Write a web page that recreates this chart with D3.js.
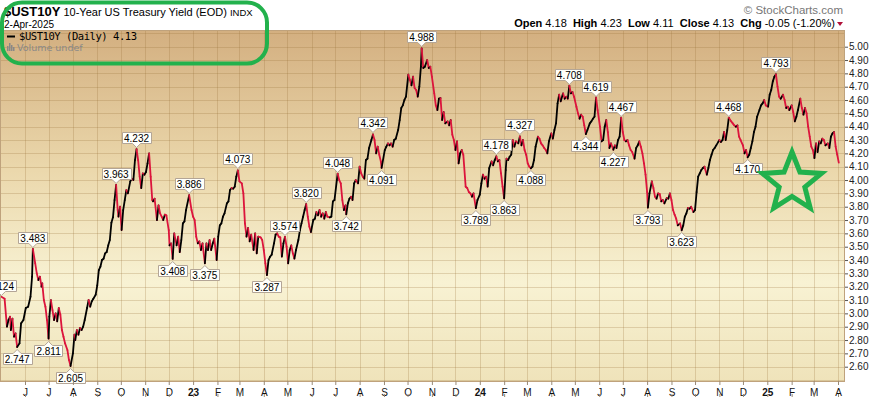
<!DOCTYPE html>
<html>
<head>
<meta charset="utf-8">
<title>$UST10Y</title>
<script src="https://cdn.jsdelivr.net/npm/d3@7"></script>
<style>
  body { margin: 0; background: #fff; }
  svg text { font-family: "Liberation Sans", Arial, sans-serif; }
</style>
</head>
<body>
<script>
// daily closes: [date, yield]
const closes = [
  ["2022-05-02",3.124],["2022-05-06",3.11],["2022-05-09",2.90],["2022-05-11",2.95],["2022-05-13",2.975],
  ["2022-05-14",2.875],["2022-05-16",2.96],["2022-05-18",2.825],["2022-05-20",2.85],["2022-05-22",2.747],
  ["2022-05-25",2.775],["2022-05-27",2.925],["2022-05-30",2.95],["2022-06-02",3.04],["2022-06-05",3.05],
  ["2022-06-08",3.125],["2022-06-10",3.275],["2022-06-11",3.483],["2022-06-14",3.375],["2022-06-16",3.30],
  ["2022-06-18",3.25],["2022-06-20",3.275],["2022-06-22",3.20],["2022-06-23",3.225],["2022-06-25",3.10],
  ["2022-06-27",3.05],["2022-06-29",2.95],["2022-07-01",2.811],["2022-07-02",2.975],["2022-07-04",3.10],
  ["2022-07-06",3.025],["2022-07-08",2.95],["2022-07-10",3.00],["2022-07-12",2.94],["2022-07-14",3.04],
  ["2022-07-16",2.99],["2022-07-18",2.875],["2022-07-20",2.825],["2022-07-22",2.775],["2022-07-25",2.725],
  ["2022-07-27",2.65],["2022-07-29",2.605],["2022-08-01",2.70],["2022-08-03",2.84],["2022-08-04",2.80],
  ["2022-08-06",2.875],["2022-08-08",2.84],["2022-08-10",2.89],["2022-08-12",2.875],["2022-08-14",2.90],
  ["2022-08-16",2.95],["2022-08-19",3.04],["2022-08-21",3.10],["2022-08-23",3.05],["2022-08-25",3.09],
  ["2022-08-27",3.11],["2022-08-30",3.14],["2022-09-01",3.21],["2022-09-03",3.325],["2022-09-05",3.35],
  ["2022-09-07",3.40],["2022-09-09",3.41],["2022-09-11",3.45],["2022-09-13",3.46],["2022-09-15",3.51],
  ["2022-09-17",3.55],["2022-09-19",3.68],["2022-09-21",3.72],["2022-09-23",3.85],["2022-09-25",3.963],
  ["2022-09-27",3.775],["2022-09-28",3.725],["2022-09-30",3.80],["2022-10-02",3.625],["2022-10-04",3.775],
  ["2022-10-06",3.85],["2022-10-08",3.925],["2022-10-10",3.90],["2022-10-13",3.99],["2022-10-15",4.01],
  ["2022-10-17",4.00],["2022-10-19",4.15],["2022-10-21",4.232],["2022-10-23",4.15],["2022-10-25",4.025],
  ["2022-10-27",3.94],["2022-10-29",4.05],["2022-10-31",4.04],["2022-11-02",4.06],["2022-11-04",4.125],
  ["2022-11-06",4.20],["2022-11-08",4.025],["2022-11-10",3.85],["2022-11-11",3.84],["2022-11-13",3.86],
  ["2022-11-16",3.70],["2022-11-18",3.81],["2022-11-20",3.75],["2022-11-22",3.725],["2022-11-24",3.70],
  ["2022-11-26",3.74],["2022-11-28",3.735],["2022-12-01",3.625],["2022-12-02",3.51],["2022-12-04",3.525],
  ["2022-12-06",3.408],["2022-12-08",3.60],["2022-12-11",3.51],["2022-12-13",3.575],["2022-12-15",3.46],
  ["2022-12-17",3.55],["2022-12-19",3.675],["2022-12-21",3.69],["2022-12-23",3.775],["2022-12-27",3.886],
  ["2022-12-30",3.775],["2023-01-01",3.725],["2023-01-03",3.70],["2023-01-05",3.575],["2023-01-07",3.525],
  ["2023-01-09",3.54],["2023-01-11",3.475],["2023-01-13",3.525],["2023-01-16",3.375],["2023-01-18",3.525],
  ["2023-01-20",3.475],["2023-01-22",3.55],["2023-01-24",3.475],["2023-01-26",3.525],["2023-01-28",3.56],
  ["2023-01-31",3.40],["2023-02-02",3.575],["2023-02-04",3.66],["2023-02-06",3.675],["2023-02-08",3.725],
  ["2023-02-10",3.75],["2023-02-13",3.825],["2023-02-15",3.84],["2023-02-17",3.925],["2023-02-19",3.94],
  ["2023-02-21",3.935],["2023-02-23",3.95],["2023-02-25",4.025],["2023-02-27",4.073],["2023-03-01",3.99],
  ["2023-03-04",3.975],["2023-03-06",3.90],["2023-03-08",3.675],["2023-03-10",3.575],["2023-03-12",3.64],
  ["2023-03-14",3.54],["2023-03-16",3.59],["2023-03-19",3.475],["2023-03-21",3.60],["2023-03-23",3.45],
  ["2023-03-25",3.575],["2023-03-28",3.57],["2023-03-30",3.55],["2023-04-01",3.475],["2023-04-03",3.375],
  ["2023-04-05",3.287],["2023-04-07",3.40],["2023-04-09",3.425],["2023-04-11",3.44],["2023-04-14",3.525],
  ["2023-04-16",3.59],["2023-04-18",3.60],["2023-04-20",3.575],["2023-04-22",3.57],["2023-04-24",3.425],
  ["2023-04-26",3.525],["2023-04-28",3.574],["2023-04-30",3.50],["2023-05-02",3.375],["2023-05-04",3.475],
  ["2023-05-06",3.51],["2023-05-08",3.45],["2023-05-10",3.41],["2023-05-12",3.475],["2023-05-15",3.55],
  ["2023-05-17",3.625],["2023-05-19",3.675],["2023-05-21",3.725],["2023-05-23",3.775],["2023-05-25",3.820],
  ["2023-05-27",3.725],["2023-05-29",3.65],["2023-05-31",3.61],["2023-06-03",3.70],["2023-06-05",3.71],
  ["2023-06-07",3.76],["2023-06-09",3.735],["2023-06-11",3.775],["2023-06-13",3.725],["2023-06-15",3.75],
  ["2023-06-17",3.71],["2023-06-19",3.76],["2023-06-21",3.725],["2023-06-24",3.72],["2023-06-26",3.725],
  ["2023-06-28",3.84],["2023-06-30",3.85],["2023-07-03",4.00],["2023-07-04",4.048],["2023-07-06",4.00],
  ["2023-07-08",3.975],["2023-07-10",3.85],["2023-07-12",3.775],["2023-07-14",3.81],["2023-07-15",3.742],
  ["2023-07-17",3.825],["2023-07-19",3.86],["2023-07-21",3.875],["2023-07-23",3.85],["2023-07-25",3.975],
  ["2023-07-27",4.00],["2023-07-30",3.975],["2023-08-01",4.10],["2023-08-03",4.05],["2023-08-05",4.025],
  ["2023-08-07",4.01],["2023-08-09",4.15],["2023-08-11",4.16],["2023-08-13",4.24],["2023-08-16",4.30],
  ["2023-08-18",4.342],["2023-08-20",4.30],["2023-08-22",4.20],["2023-08-24",4.25],["2023-08-26",4.19],
  ["2023-08-28",4.14],["2023-08-29",4.091],["2023-09-02",4.225],["2023-09-04",4.25],["2023-09-06",4.275],
  ["2023-09-08",4.26],["2023-09-10",4.275],["2023-09-12",4.25],["2023-09-14",4.30],["2023-09-16",4.31],
  ["2023-09-19",4.375],["2023-09-21",4.45],["2023-09-23",4.54],["2023-09-25",4.56],["2023-09-27",4.60],
  ["2023-09-29",4.625],["2023-10-02",4.79],["2023-10-04",4.75],["2023-10-06",4.71],["2023-10-08",4.775],
  ["2023-10-10",4.69],["2023-10-12",4.675],["2023-10-14",4.625],["2023-10-16",4.70],["2023-10-18",4.85],
  ["2023-10-19",4.988],["2023-10-21",4.84],["2023-10-23",4.85],["2023-10-26",4.90],["2023-10-28",4.84],
  ["2023-10-30",4.85],["2023-11-01",4.775],["2023-11-04",4.65],["2023-11-06",4.56],["2023-11-08",4.525],
  ["2023-11-10",4.61],["2023-11-12",4.615],["2023-11-14",4.45],["2023-11-16",4.51],["2023-11-18",4.425],
  ["2023-11-21",4.44],["2023-11-23",4.41],["2023-11-25",4.45],["2023-11-27",4.34],["2023-11-29",4.30],
  ["2023-12-01",4.225],["2023-12-03",4.29],["2023-12-05",4.125],["2023-12-07",4.20],["2023-12-09",4.225],
  ["2023-12-11",4.19],["2023-12-14",3.95],["2023-12-16",3.94],["2023-12-18",3.91],["2023-12-20",3.90],
  ["2023-12-22",3.875],["2023-12-24",3.90],["2023-12-27",3.789],["2023-12-29",3.85],["2024-01-01",3.89],
  ["2024-01-03",3.975],["2024-01-05",4.04],["2024-01-07",4.01],["2024-01-09",4.025],["2024-01-11",3.95],
  ["2024-01-13",4.09],["2024-01-16",4.14],["2024-01-18",4.11],["2024-01-20",4.15],["2024-01-22",4.178],
  ["2024-01-24",4.14],["2024-01-26",4.15],["2024-01-28",4.05],["2024-01-30",3.95],["2024-02-01",3.863],
  ["2024-02-03",4.075],["2024-02-04",4.16],["2024-02-06",4.15],["2024-02-08",4.175],["2024-02-10",4.19],
  ["2024-02-12",4.30],["2024-02-14",4.25],["2024-02-16",4.29],["2024-02-19",4.275],["2024-02-21",4.327],
  ["2024-02-23",4.26],["2024-02-25",4.30],["2024-02-27",4.225],["2024-02-29",4.19],["2024-03-02",4.125],
  ["2024-03-04",4.10],["2024-03-06",4.088],["2024-03-08",4.10],["2024-03-10",4.15],["2024-03-12",4.25],
  ["2024-03-15",4.325],["2024-03-17",4.31],["2024-03-19",4.275],["2024-03-21",4.26],["2024-03-23",4.24],
  ["2024-03-25",4.225],["2024-03-27",4.20],["2024-03-29",4.29],["2024-04-01",4.35],["2024-04-03",4.31],
  ["2024-04-05",4.375],["2024-04-07",4.425],["2024-04-09",4.575],["2024-04-11",4.64],["2024-04-13",4.59],
  ["2024-04-16",4.65],["2024-04-18",4.61],["2024-04-20",4.625],["2024-04-22",4.61],["2024-04-24",4.708],
  ["2024-04-26",4.65],["2024-04-28",4.66],["2024-04-30",4.625],["2024-05-03",4.55],["2024-05-05",4.50],
  ["2024-05-07",4.46],["2024-05-09",4.49],["2024-05-11",4.475],["2024-05-13",4.41],["2024-05-15",4.344],
  ["2024-05-17",4.375],["2024-05-20",4.425],["2024-05-22",4.44],["2024-05-24",4.46],["2024-05-26",4.475],
  ["2024-05-28",4.619],["2024-05-30",4.525],["2024-06-02",4.40],["2024-06-04",4.29],["2024-06-06",4.30],
  ["2024-06-08",4.40],["2024-06-10",4.45],["2024-06-12",4.36],["2024-06-14",4.24],["2024-06-16",4.275],
  ["2024-06-19",4.227],["2024-06-21",4.26],["2024-06-23",4.24],["2024-06-25",4.30],["2024-06-27",4.325],
  ["2024-06-29",4.467],["2024-07-01",4.36],["2024-07-03",4.30],["2024-07-05",4.29],["2024-07-07",4.30],
  ["2024-07-09",4.26],["2024-07-11",4.225],["2024-07-13",4.21],["2024-07-16",4.16],["2024-07-18",4.24],
  ["2024-07-20",4.26],["2024-07-22",4.29],["2024-07-24",4.25],["2024-07-26",4.20],["2024-07-28",4.125],
  ["2024-07-30",4.04],["2024-08-01",3.91],["2024-08-02",3.793],["2024-08-04",3.90],["2024-08-07",3.99],
  ["2024-08-09",3.94],["2024-08-11",3.875],["2024-08-13",3.86],["2024-08-15",3.90],["2024-08-17",3.895],
  ["2024-08-19",3.84],["2024-08-21",3.85],["2024-08-23",3.825],["2024-08-26",3.865],["2024-08-28",3.86],
  ["2024-08-30",3.90],["2024-09-01",3.85],["2024-09-03",3.775],["2024-09-05",3.74],["2024-09-07",3.71],
  ["2024-09-09",3.66],["2024-09-12",3.675],["2024-09-14",3.623],["2024-09-16",3.66],["2024-09-18",3.725],
  ["2024-09-20",3.75],["2024-09-22",3.79],["2024-09-24",3.785],["2024-09-26",3.80],["2024-09-29",3.76],
  ["2024-10-01",3.775],["2024-10-03",3.91],["2024-10-05",4.025],["2024-10-07",4.05],["2024-10-09",4.075],
  ["2024-10-11",4.09],["2024-10-13",4.10],["2024-10-16",4.04],["2024-10-18",4.09],["2024-10-20",4.15],
  ["2024-10-22",4.19],["2024-10-24",4.225],["2024-10-26",4.24],["2024-10-28",4.26],["2024-10-31",4.29],
  ["2024-11-01",4.30],["2024-11-03",4.285],["2024-11-05",4.30],["2024-11-07",4.36],["2024-11-09",4.30],
  ["2024-11-11",4.375],["2024-11-13",4.468],["2024-11-16",4.44],["2024-11-18",4.425],["2024-11-20",4.41],
  ["2024-11-22",4.40],["2024-11-24",4.41],["2024-11-26",4.325],["2024-11-28",4.30],["2024-12-01",4.26],
  ["2024-12-03",4.20],["2024-12-05",4.225],["2024-12-07",4.170],["2024-12-09",4.19],["2024-12-11",4.24],
  ["2024-12-13",4.29],["2024-12-15",4.36],["2024-12-17",4.40],["2024-12-19",4.475],["2024-12-22",4.525],
  ["2024-12-24",4.56],["2024-12-26",4.575],["2024-12-28",4.60],["2024-12-30",4.56],["2025-01-02",4.55],
  ["2025-01-04",4.64],["2025-01-06",4.675],["2025-01-08",4.74],["2025-01-10",4.775],["2025-01-12",4.793],
  ["2025-01-14",4.70],["2025-01-16",4.625],["2025-01-18",4.61],["2025-01-21",4.64],["2025-01-23",4.60],
  ["2025-01-25",4.54],["2025-01-27",4.55],["2025-01-29",4.525],["2025-02-01",4.56],["2025-02-03",4.51],
  ["2025-02-05",4.44],["2025-02-07",4.475],["2025-02-09",4.525],["2025-02-12",4.61],["2025-02-14",4.54],
  ["2025-02-16",4.49],["2025-02-18",4.54],["2025-02-20",4.50],["2025-02-22",4.40],["2025-02-24",4.325],
  ["2025-02-26",4.25],["2025-02-28",4.225],["2025-03-02",4.165],["2025-03-04",4.275],["2025-03-06",4.21],
  ["2025-03-08",4.29],["2025-03-10",4.275],["2025-03-12",4.31],["2025-03-14",4.30],["2025-03-16",4.26],
  ["2025-03-19",4.275],["2025-03-21",4.24],["2025-03-23",4.325],["2025-03-25",4.35],["2025-03-27",4.36],
  ["2025-03-29",4.25],["2025-03-31",4.19],["2025-04-02",4.13]
];

// annotated turning points: [date, side]
const markers = [
  ["2022-05-02","up"],["2022-05-22","down"],["2022-06-11","up"],["2022-07-01","down"],["2022-07-29","down"],
  ["2022-09-25","up"],["2022-10-21","up"],["2022-12-06","down"],["2022-12-27","up"],["2023-01-16","down"],
  ["2023-02-27","up"],["2023-04-05","down"],["2023-04-28","up"],["2023-05-25","up"],["2023-07-04","up"],
  ["2023-07-15","down"],["2023-08-18","up"],["2023-08-29","down"],["2023-10-19","up"],["2023-12-27","down"],
  ["2024-01-22","up"],["2024-02-01","down"],["2024-02-21","up"],["2024-03-06","down"],["2024-04-24","up"],
  ["2024-05-15","down"],["2024-05-28","up"],["2024-06-19","down"],["2024-06-29","up"],["2024-08-02","down"],
  ["2024-09-14","down"],["2024-11-13","up"],["2024-12-07","down"],["2025-01-12","up"]
];

const yTicks = d3.range(26, 51).map(v => v / 10);
const quoteStats = [["Open","4.18"],["High","4.23"],["Low","4.11"],["Close","4.13"],["Chg","-0.05 (-1.20%)"]];

const W = 876, H = 397;
const plot = {left: 0, right: 845, top: 30, bottom: 381};
const upColor = "#000", downColor = "#dc143c";

const svg = d3.select("body").append("svg").attr("width", W).attr("height", H);

const parse = d3.timeParse("%Y-%m-%d");
const data = closes.map(d => ({date: parse(d[0]), value: d[1]}));
const byDate = new Map(closes.map(d => [d[0], d[1]]));

const x = d3.scaleTime().domain([new Date(2022, 5, 1), new Date(2025, 3, 1)]).range([25, 838]);
const y = d3.scaleLinear().domain([2.6, 5.0]).range([366.7, 46.7]);

// background gradient
const grad = svg.append("defs").append("linearGradient")
  .attr("id", "bg").attr("x1", 0).attr("y1", 0).attr("x2", 0).attr("y2", 1);
grad.append("stop").attr("offset", "0%").attr("stop-color", "#d3af80");
grad.append("stop").attr("offset", "40%").attr("stop-color", "#ebd8ac");
grad.append("stop").attr("offset", "72%").attr("stop-color", "#f8f2d3");
grad.append("stop").attr("offset", "100%").attr("stop-color", "#efe3ba");

svg.append("rect")
  .attr("x", plot.left).attr("y", plot.top)
  .attr("width", plot.right - plot.left).attr("height", plot.bottom - plot.top)
  .attr("fill", "url(#bg)");

// grid
const months = d3.timeMonth.range(new Date(2022, 5, 1), new Date(2025, 3, 2));
const grid = svg.append("g").attr("stroke", "rgba(150,110,55,0.25)").attr("stroke-width", 1);
grid.selectAll("line.h").data(d3.range(25, 52).map(v => v / 10)).join("line")
  .attr("x1", plot.left).attr("x2", plot.right)
  .attr("y1", d => Math.round(y(d)) + 0.5).attr("y2", d => Math.round(y(d)) + 0.5);
grid.selectAll("line.v").data(months).join("line")
  .attr("y1", plot.top).attr("y2", plot.bottom)
  .attr("x1", d => Math.round(x(d)) + 0.5).attr("x2", d => Math.round(x(d)) + 0.5);

// price line, black on up days, red on down days
svg.append("g").selectAll("line").data(d3.pairs(data)).join("line")
  .attr("x1", p => x(p[0].date)).attr("y1", p => y(p[0].value))
  .attr("x2", p => x(p[1].date)).attr("y2", p => y(p[1].value))
  .attr("stroke", p => p[1].value >= p[0].value ? upColor : downColor)
  .attr("stroke-width", 1.8).attr("stroke-linecap", "round");

// plot frame
svg.append("rect")
  .attr("x", plot.left + 0.5).attr("y", plot.top + 0.5)
  .attr("width", plot.right - plot.left - 1).attr("height", plot.bottom - plot.top)
  .attr("fill", "none").attr("stroke", "#bfa27c");

// value labels
const labels = svg.append("g").selectAll("g").data(markers).join("g");
labels.each(function(m) {
  const g = d3.select(this);
  const v = byDate.get(m[0]);
  const px = x(parse(m[0])), py = y(v);
  const t = g.append("text").text(v.toFixed(3))
    .attr("font-size", 10).attr("text-anchor", "middle").attr("fill", "#000");
  const w = t.node().getComputedTextLength() + 4, h = 11;
  const x0 = Math.round(px - w / 2) + 0.5, x1 = x0 + Math.round(w);
  let d;
  if (m[1] === "up") {
    const yb = Math.round(py - 6) + 0.5, yt = yb - h;
    d = `M${x0},${yt}H${x1}V${yb}H${px + 4}L${px},${yb + 4}L${px - 4},${yb}H${x0}Z`;
    t.attr("x", px).attr("y", yb - 2);
  } else {
    const yt = Math.round(py + 6) + 0.5, yb = yt + h;
    d = `M${x0},${yt}H${px - 4}L${px},${yt - 4}L${px + 4},${yt}H${x1}V${yb}H${x0}Z`;
    t.attr("x", px).attr("y", yb - 2);
  }
  g.insert("path", "text").attr("d", d).attr("fill", "#fffffa").attr("stroke", "#b3a596");
});

// right axis
const yAxis = svg.append("g").attr("transform", `translate(${plot.right},0)`)
  .call(d3.axisRight(y).tickValues(yTicks).tickFormat(d3.format(".2f")).tickSize(3).tickPadding(1));
yAxis.select(".domain").remove();
yAxis.selectAll(".tick line").attr("stroke", "#555");
yAxis.selectAll(".tick text").attr("font-size", 10).attr("fill", "#222")
  .attr("font-family", "'Liberation Sans', Arial, sans-serif");

// bottom axis
const monthFmt = d => d.getMonth() === 0 ? d3.timeFormat("%y")(d) : d3.timeFormat("%b")(d)[0];
const xAxis = svg.append("g").attr("transform", `translate(0,${plot.bottom})`)
  .call(d3.axisBottom(x).tickValues(months).tickFormat(monthFmt).tickSize(4).tickPadding(4));
xAxis.select(".domain").remove();
xAxis.selectAll(".tick line").attr("stroke", "#9a8a76");
xAxis.selectAll(".tick text").attr("font-size", 10).attr("fill", "#111")
  .attr("font-family", "'Liberation Sans', Arial, sans-serif")
  .attr("font-weight", d => d.getMonth() === 0 ? "bold" : "normal");
xAxis.selectAll(".tick").append("line")
  .attr("y1", 13).attr("y2", 16).attr("stroke", "#9a8a76");

// header
const title = svg.append("text").attr("x", 4).attr("y", 16).attr("fill", "#000");
title.append("tspan").text("$UST10Y").attr("font-weight", "bold").attr("font-size", 13);
title.append("tspan").text(" 10-Year US Treasury Yield (EOD) ").attr("font-size", 11);
title.append("tspan").text("INDX").attr("font-size", 9.5);
svg.append("text").attr("x", 4).attr("y", 28).attr("font-size", 10).text("2-Apr-2025");

svg.append("text").attr("x", 843).attr("y", 14).attr("text-anchor", "end")
  .attr("font-size", 11.5).attr("fill", "#777").text("\u00A9 StockCharts.com");

const stats = svg.append("text").attr("x", 835).attr("y", 27).attr("text-anchor", "end")
  .attr("font-size", 11).attr("xml:space", "preserve");
quoteStats.forEach((s, i) => {
  stats.append("tspan").text((i ? "  " : "") + s[0]).attr("font-weight", "bold");
  stats.append("tspan").text(" " + s[1]);
});
svg.append("path").attr("d", "M837,22L843,22L840,26Z").attr("fill", "#b0103a");

// legend inside plot
svg.append("line").attr("x1", 7).attr("x2", 15).attr("y1", 36.5).attr("y2", 36.5)
  .attr("stroke", "#000").attr("stroke-width", 2);
svg.append("text").attr("x", 19).attr("y", 40).attr("font-size", 10.5)
  .attr("textLength", 118).attr("lengthAdjust", "spacing")
  .style("font-family", "'DejaVu Sans Mono', monospace").text("$UST10Y (Daily) 4.13");
svg.append("g").attr("fill", "#888").selectAll("rect").data([5, 8, 6, 4]).join("rect")
  .attr("x", (d, i) => 7 + i * 2).attr("y", d => 51 - d).attr("width", 1.5).attr("height", d => d);
svg.append("text").attr("x", 17).attr("y", 51).attr("font-size", 9.5).attr("fill", "#888")
  .style("font-family", "'DejaVu Sans', sans-serif").text("Volume undef");

// green hand-drawn highlights
const green = "#22b14c";
svg.append("rect").attr("x", 2).attr("y", 2.5).attr("width", 265).attr("height", 61).attr("rx", 20)
  .attr("fill", "none").attr("stroke", green).attr("stroke-width", 4);
const cx = 792, cy = 183, R = 31, r = 13.5;
const starPts = d3.range(10).map(i => {
  const a = -Math.PI / 2 + i * Math.PI / 5, rad = i % 2 ? r : R;
  return [cx + rad * Math.cos(a), cy + rad * Math.sin(a)];
});
svg.append("path").attr("d", d3.line()(starPts) + "Z")
  .attr("fill", "none").attr("stroke", green).attr("stroke-width", 5).attr("stroke-linejoin", "miter");
</script>
</body>
</html>
